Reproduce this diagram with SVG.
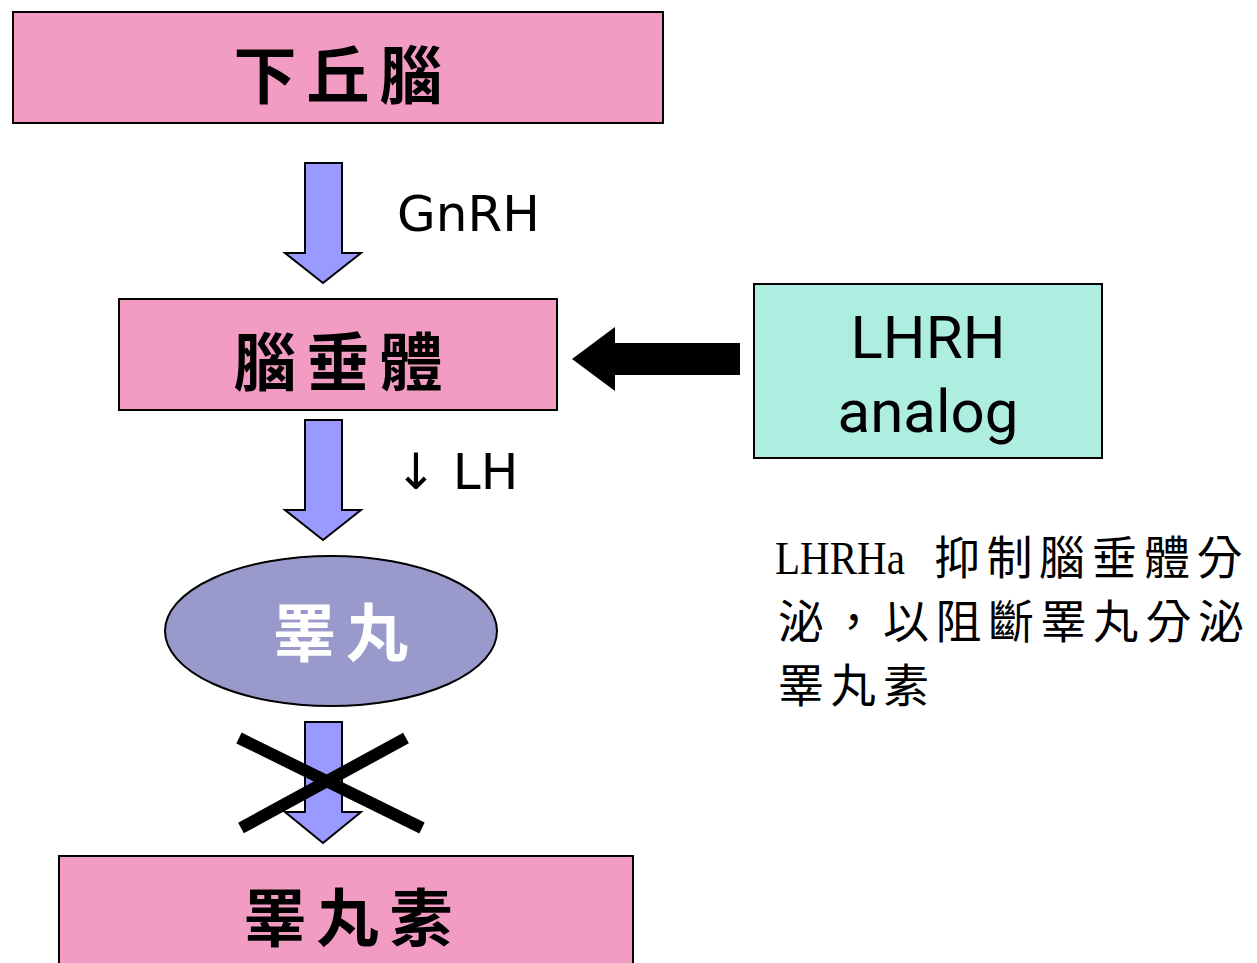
<svg xmlns="http://www.w3.org/2000/svg" width="1257" height="963" viewBox="0 0 1257 963">
<style>
.box{fill:#F39CC3;stroke:#000;stroke-width:2}
.cjk{font-family:"Noto Sans CJK TC","Noto Sans CJK SC",sans-serif;font-weight:bold;font-size:63px;letter-spacing:10px;text-anchor:middle}
.lbl{font-family:"DejaVu Sans","Noto Sans",sans-serif;font-size:50px;fill:#000}
.big{font-family:Roboto,"DejaVu Sans",sans-serif;font-size:60px;text-anchor:middle;fill:#000}
.dn{fill:#9999FF;stroke:#000;stroke-width:2}
.para{font-family:"Liberation Serif","Noto Sans CJK TC",serif;font-size:46px;letter-spacing:6.5px;fill:#000}
</style>
<rect width="1257" height="963" fill="#fff"/>
<g id="hypothalamus">
<rect class="box" x="13" y="12" width="650" height="111"/>
<text class="cjk" x="343" y="98">下丘腦</text>
</g>
<g id="pituitary">
<rect class="box" x="119" y="299" width="438" height="111"/>
<text class="cjk" x="343" y="385">腦垂體</text>
</g>
<g id="testis">
<ellipse cx="331" cy="631" rx="166" ry="75" fill="#9999CC" stroke="#000" stroke-width="2"/>
<text class="cjk" x="346" y="656" fill="#fff">睪丸</text>
</g>
<g id="testosterone">
<rect class="box" x="59" y="856" width="574" height="120"/>
<text class="cjk" x="353" y="941">睪丸素</text>
</g>
<g id="lhrh-analog">
<rect x="754" y="284" width="348" height="174" fill="#AEEEE0" stroke="#000" stroke-width="2"/>
<text class="big" x="928" y="358">LHRH</text>
<text class="big" x="928" y="432">analog</text>
</g>
<g id="connectors">
<path class="dn" d="M305,163 H342 V253 H361 L323,283 L285,253 H305 Z"/>
<text class="lbl" x="397" y="231">GnRH</text>
<path class="dn" d="M305,420 H342 V510 H361 L323,540 L285,510 H305 Z"/>
<text class="lbl" x="395" y="489">↓ LH</text>
<path class="dn" d="M305,722 H342 V812 H361 L323,843 L285,812 H305 Z"/>
<g stroke="#000" stroke-width="12">
<line x1="239" y1="738" x2="422" y2="828"/>
<line x1="406" y1="738" x2="241" y2="828"/>
</g>
<path d="M740,343 V375 H615 V391 L572,359 L615,327 V343 Z" fill="#000"/>
</g>
<g id="note">
<text class="para" y="574"><tspan x="775" letter-spacing="0" textLength="130" lengthAdjust="spacingAndGlyphs">LHRHa</tspan><tspan x="934">抑制腦垂體分</tspan></text>
<text class="para" x="778" y="638">泌，以阻斷睪丸分泌</text>
<text class="para" x="778" y="702">睪丸素</text>
</g>
</svg>
